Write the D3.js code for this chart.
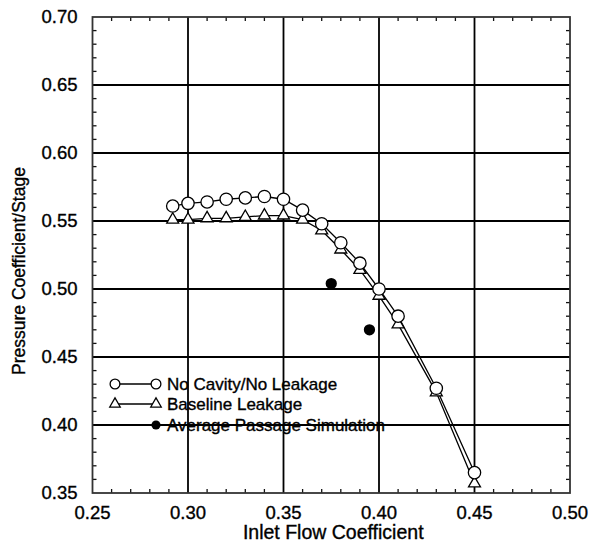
<!DOCTYPE html>
<html>
<head>
<meta charset="utf-8">
<script src="https://cdn.jsdelivr.net/npm/d3@7"></script>
<style>
  body { margin: 0; background: #fff; }
  text { font-family: "Liberation Sans", Arial, sans-serif; fill: #000; stroke: #000; stroke-width: 0.35; }
</style>
</head>
<body>
<div id="chart"></div>
<script>
// values
var flowNoCavity = [0.292, 0.30, 0.31, 0.32, 0.33, 0.34, 0.35, 0.36, 0.37, 0.38, 0.39, 0.40, 0.41, 0.43, 0.45]
var psiNoCavity  = [0.561, 0.563, 0.564, 0.566, 0.567, 0.568, 0.566, 0.558, 0.548, 0.534, 0.519, 0.500, 0.480, 0.427, 0.365]

var flowBaseline = [0.292, 0.30, 0.31, 0.32, 0.33, 0.34, 0.35, 0.36, 0.37, 0.38, 0.39, 0.40, 0.41, 0.43, 0.45]
var psiBaseline  = [0.551, 0.551, 0.552, 0.552, 0.553, 0.554, 0.554, 0.551, 0.543, 0.529, 0.514, 0.495, 0.474, 0.424, 0.357]

var flowAvgPassage = [0.375, 0.395]
var psiAvgPassage  = [0.504, 0.470]

var xTicks = [0.25, 0.30, 0.35, 0.40, 0.45, 0.50]
var yTicks = [0.35, 0.40, 0.45, 0.50, 0.55, 0.60, 0.65, 0.70]

var legendLabels = ['No Cavity/No Leakage', 'Baseline Leakage', 'Average Passage Simulation']

var width = 591, height = 543
var margin = {top: 17, right: 21, bottom: 50, left: 92.5}

var svg = d3.select('#chart').append('svg')
    .attr('width', width).attr('height', height)

var x = d3.scaleLinear().domain([0.25, 0.50]).range([margin.left, width - margin.right])
var y = d3.scaleLinear().domain([0.35, 0.70]).range([height - margin.bottom, margin.top])

var x0 = x.range()[0], x1 = x.range()[1], y0 = y.range()[0], y1 = y.range()[1]

// grid
svg.append('g').selectAll('line')
  .data(xTicks.slice(1, -1))
  .enter().append('line')
    .attr('x1', d => x(d)).attr('x2', d => x(d))
    .attr('y1', y0).attr('y2', y1)
    .attr('stroke', '#000').attr('stroke-width', 1.8)

svg.append('g').selectAll('line')
  .data(yTicks.slice(1, -1))
  .enter().append('line')
    .attr('x1', x0).attr('x2', x1)
    .attr('y1', d => y(d)).attr('y2', d => y(d))
    .attr('stroke', '#000').attr('stroke-width', 1.8)

// minor ticks, pointing inward on all four sides
var xMinor = d3.range(26).map(i => 0.25 + i * 0.01).filter(v => Math.round(v * 100) % 5 != 0)
var yMinor = d3.range(36).map(i => 0.35 + i * 0.01).filter(v => Math.round(v * 100) % 5 != 0)
var tk = 4
var ticks = svg.append('g').attr('stroke', '#111').attr('stroke-width', 1.3)
xMinor.forEach(function(v){
  ticks.append('line').attr('x1', x(v)).attr('x2', x(v)).attr('y1', y0).attr('y2', y0 - tk)
  ticks.append('line').attr('x1', x(v)).attr('x2', x(v)).attr('y1', y1).attr('y2', y1 + tk)
})
yMinor.forEach(function(v){
  ticks.append('line').attr('x1', x0).attr('x2', x0 + tk).attr('y1', y(v)).attr('y2', y(v))
  ticks.append('line').attr('x1', x1).attr('x2', x1 - tk).attr('y1', y(v)).attr('y2', y(v))
})

// frame
svg.append('rect')
  .attr('x', x0).attr('y', y1).attr('width', x1 - x0).attr('height', y0 - y1)
  .attr('fill', 'none').attr('stroke', '#333').attr('stroke-width', 1.8)

// tick labels
svg.append('g').selectAll('text')
  .data(xTicks)
  .enter().append('text')
    .attr('x', d => x(d)).attr('y', y0 + 26)
    .attr('text-anchor', 'middle').attr('font-size', 18.5)
    .text(d => d3.format('.2f')(d))

svg.append('g').selectAll('text')
  .data(yTicks)
  .enter().append('text')
    .attr('x', x0 - 15).attr('y', d => y(d) + 6)
    .attr('text-anchor', 'end').attr('font-size', 18.5)
    .text(d => d3.format('.2f')(d))

// axis titles
svg.append('text')
  .attr('x', (x0 + x1) / 2 + 2).attr('y', height - 4)
  .attr('text-anchor', 'middle').attr('font-size', 19.5)
  .text('Inlet Flow Coefficient')

svg.append('text')
  .attr('transform', 'translate(25,' + ((y0 + y1) / 2 + 16) + ') rotate(-90)')
  .attr('text-anchor', 'middle').attr('font-size', 17.5)
  .text('Pressure Coefficient/Stage')

// series
var noCav = flowNoCavity.map((f, i) => [f, psiNoCavity[i]])
var base = flowBaseline.map((f, i) => [f, psiBaseline[i]])
var avg = flowAvgPassage.map((f, i) => [f, psiAvgPassage[i]])

var line = d3.line().x(d => x(d[0])).y(d => y(d[1]))

svg.append('path').datum(base).attr('d', line)
  .attr('fill', 'none').attr('stroke', '#000').attr('stroke-width', 1.3)
svg.append('path').datum(noCav).attr('d', line)
  .attr('fill', 'none').attr('stroke', '#000').attr('stroke-width', 1.3)

var tri = d3.symbol().type(d3.symbolTriangle).size(62)
var circ = d3.symbol().type(d3.symbolCircle).size(120)
var dot = d3.symbol().type(d3.symbolCircle).size(100)

svg.append('g').selectAll('path')
  .data(base)
  .enter().append('path')
    .attr('d', tri)
    .attr('transform', d => 'translate(' + x(d[0]) + ',' + y(d[1]) + ')')
    .attr('fill', '#fff').attr('stroke', '#000').attr('stroke-width', 1.3)

svg.append('g').selectAll('path')
  .data(noCav)
  .enter().append('path')
    .attr('d', circ)
    .attr('transform', d => 'translate(' + x(d[0]) + ',' + y(d[1]) + ')')
    .attr('fill', '#fff').attr('stroke', '#000').attr('stroke-width', 1.3)

svg.append('g').selectAll('path')
  .data(avg)
  .enter().append('path')
    .attr('d', dot)
    .attr('transform', d => 'translate(' + x(d[0]) + ',' + y(d[1]) + ')')
    .attr('fill', '#000')

// legend
var lg = svg.append('g')
var lx0 = 115, lx1 = 156, lty = [384, 404, 425]
legendLabels.forEach(function(t, i){
  if (i < 2) {
    lg.append('line').attr('x1', lx0).attr('x2', lx1).attr('y1', lty[i]).attr('y2', lty[i])
      .attr('stroke', '#000').attr('stroke-width', 1.3)
    ;[lx0, lx1].forEach(function(px){
      lg.append('path').attr('d', i == 0 ? d3.symbol().type(d3.symbolCircle).size(75)() : d3.symbol().type(d3.symbolTriangle).size(48)())
        .attr('transform', 'translate(' + px + ',' + lty[i] + ')')
        .attr('fill', '#fff').attr('stroke', '#000').attr('stroke-width', 1.3)
    })
  } else {
    lg.append('path').attr('d', d3.symbol().type(d3.symbolCircle).size(65)())
      .attr('transform', 'translate(' + lx1 + ',' + lty[i] + ')')
      .attr('fill', '#000')
  }
  lg.append('text').attr('x', 167).attr('y', lty[i] + 6)
    .attr('font-size', 17).text(t)
})
</script>
</body>
</html>
